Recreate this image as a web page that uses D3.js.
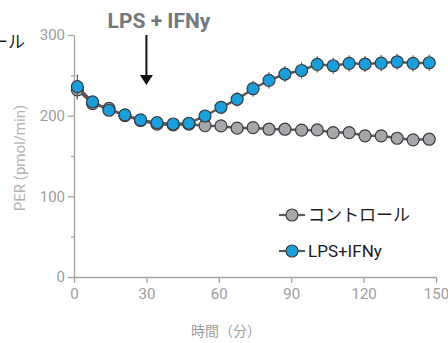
<!DOCTYPE html>
<html><head><meta charset="utf-8">
<script src="https://cdn.jsdelivr.net/npm/d3@7"></script>
<style>body{margin:0;background:#fff}svg{display:block}</style>
</head><body>
<svg id="c" width="448" height="343"></svg>
<script>
const times = [1.4, 7.7, 14.5, 21.1, 27.6, 34.4, 41.1, 47.6, 54.3, 60.9, 67.6, 74.2, 80.8, 87.4, 94.3, 100.8, 107.4, 114.0, 120.6, 127.3, 133.9, 140.5, 147.2];
const controlValues = [232, 215, 209, 200, 194, 189.5, 188.5, 189.5, 187.6, 187.3, 184.5, 185.1, 183.2, 183.2, 182, 182.3, 179, 179, 175, 175, 172, 170, 170.8];
const controlErr = [12, 5, 5, 4, 4, 4, 4, 4, 4, 4, 4, 4, 4, 4, 4, 4, 4, 4, 4, 4, 4, 4, 4];
const lpsValues = [236, 217, 206.7, 201, 194.7, 191.3, 189.7, 190.6, 199.6, 210.4, 220.3, 233.4, 243.8, 251.6, 256, 263.6, 261.9, 264.9, 264, 265.2, 266.8, 264.9, 265.6];
const lpsErr = [15, 6, 6, 5, 5, 5, 5, 5, 7, 8, 9, 10, 10, 10, 10, 10, 10, 10, 10, 10, 10, 10, 10];
const seriesNames = ["コントロール", "LPS+IFNy"];
const xTicks = [0, 30, 60, 90, 120, 150];
const yTicks = [0, 100, 200, 300];
const yMinorTicks = [50, 150, 250];
const titleText = "LPS + IFNy";
const xLabel = "時間（分）";
const yLabel = "PER (pmol/min)";
const arrowTime = 30;

const svg = d3.select("#c");
const x = d3.scaleLinear().domain([0, 150]).range([74, 436]);
const y = d3.scaleLinear().domain([0, 300]).range([277, 35]);
const axisColor = "#a3a3a3", tickText = "#9d9d9d";
const font = "Roboto, 'Noto Sans CJK JP', sans-serif";

// axes
const xa = svg.append("g").attr("transform", `translate(0,${y(0)})`)
  .call(d3.axisBottom(x).tickValues(xTicks).tickSize(6).tickSizeOuter(0).tickPadding(5));
const ya = svg.append("g").attr("transform", `translate(${x(0)},0)`)
  .call(d3.axisLeft(y).tickValues(yTicks).tickSize(6).tickSizeOuter(0).tickPadding(3));
svg.append("g").attr("transform", `translate(${x(0)},0)`)
  .call(d3.axisLeft(y).tickValues(yMinorTicks).tickSize(3).tickSizeOuter(0).tickFormat(""))
  .select(".domain").remove();
svg.selectAll(".domain, .tick line").attr("stroke", axisColor).attr("stroke-width", 1.3);
[xa, ya].forEach(a => a.selectAll("text").attr("fill", tickText).style("font-family", font).style("font-size", "15px"));

// labels
svg.append("text").attr("x", 226).attr("y", 336).attr("text-anchor", "middle")
  .attr("fill", tickText).style("font-family", font).style("font-size", "14px").text(xLabel);
svg.append("text").attr("transform", `translate(25,158) rotate(-90)`).attr("text-anchor", "middle")
  .attr("fill", "#b3b3b3").style("font-family", font).style("font-size", "15px").text(yLabel);
svg.append("text").attr("x", 159).attr("y", 28).attr("text-anchor", "middle")
  .attr("fill", "#74777b").style("font-family", font).style("font-size", "21px").style("font-weight", "bold").text(titleText);

// arrow
svg.append("line").attr("x1", x(arrowTime)).attr("x2", x(arrowTime)).attr("y1", 35).attr("y2", 78)
  .attr("stroke", "#111").attr("stroke-width", 2);
svg.append("path").attr("d", `M${x(arrowTime)-6.5},75 L${x(arrowTime)+6.5},75 L${x(arrowTime)},85 Z`).attr("fill", "#111");

// series
const series = [
  {name: seriesNames[0], vals: controlValues, err: controlErr, fill: "#a6a7a9"},
  {name: seriesNames[1], vals: lpsValues, err: lpsErr, fill: "#1b9fdb"}
];
const line = d3.line().x((d) => x(d[0])).y((d) => y(d[1]));
series.forEach(s => {
  const pts = times.map((t, i) => [t, s.vals[i], s.err[i]]);
  const g = svg.append("g");
  g.append("path").attr("d", line(pts)).attr("fill", "none").attr("stroke", "#58595c").attr("stroke-width", 2.5);
  g.selectAll("line.e").data(pts).join("line").attr("class", "e")
    .attr("x1", d => x(d[0])).attr("x2", d => x(d[0]))
    .attr("y1", d => y(d[1] - d[2])).attr("y2", d => y(d[1] + d[2]))
    .attr("stroke", "#5a5b5e").attr("stroke-width", 1.2);
  g.selectAll("circle").data(pts).join("circle")
    .attr("cx", d => x(d[0])).attr("cy", d => y(d[1])).attr("r", 6)
    .attr("fill", s.fill).attr("stroke", "#3b3d42").attr("stroke-width", 1.2);
});

// legend
series.forEach((s, i) => {
  const ly = 215 + i * 36;
  svg.append("line").attr("x1", 279).attr("x2", 305).attr("y1", ly).attr("y2", ly).attr("stroke", "#58595c").attr("stroke-width", 2.2);
  svg.append("circle").attr("cx", 292).attr("cy", ly).attr("r", 6).attr("fill", s.fill).attr("stroke", "#3b3d42").attr("stroke-width", 1.2);
  svg.append("text").attr("x", 308).attr("y", ly + 6).attr("fill", "#1a1a1a")
    .style("font-family", font).style("font-size", "17px").text(s.name);
});
// legend fragment clipped at the left edge, as in the reference
svg.append("text").attr("x", 25).attr("y", 48).attr("text-anchor", "end").attr("fill", "#1a1a1a")
  .style("font-family", font).style("font-size", "17px").text(seriesNames[0]);
</script>
</body></html>
